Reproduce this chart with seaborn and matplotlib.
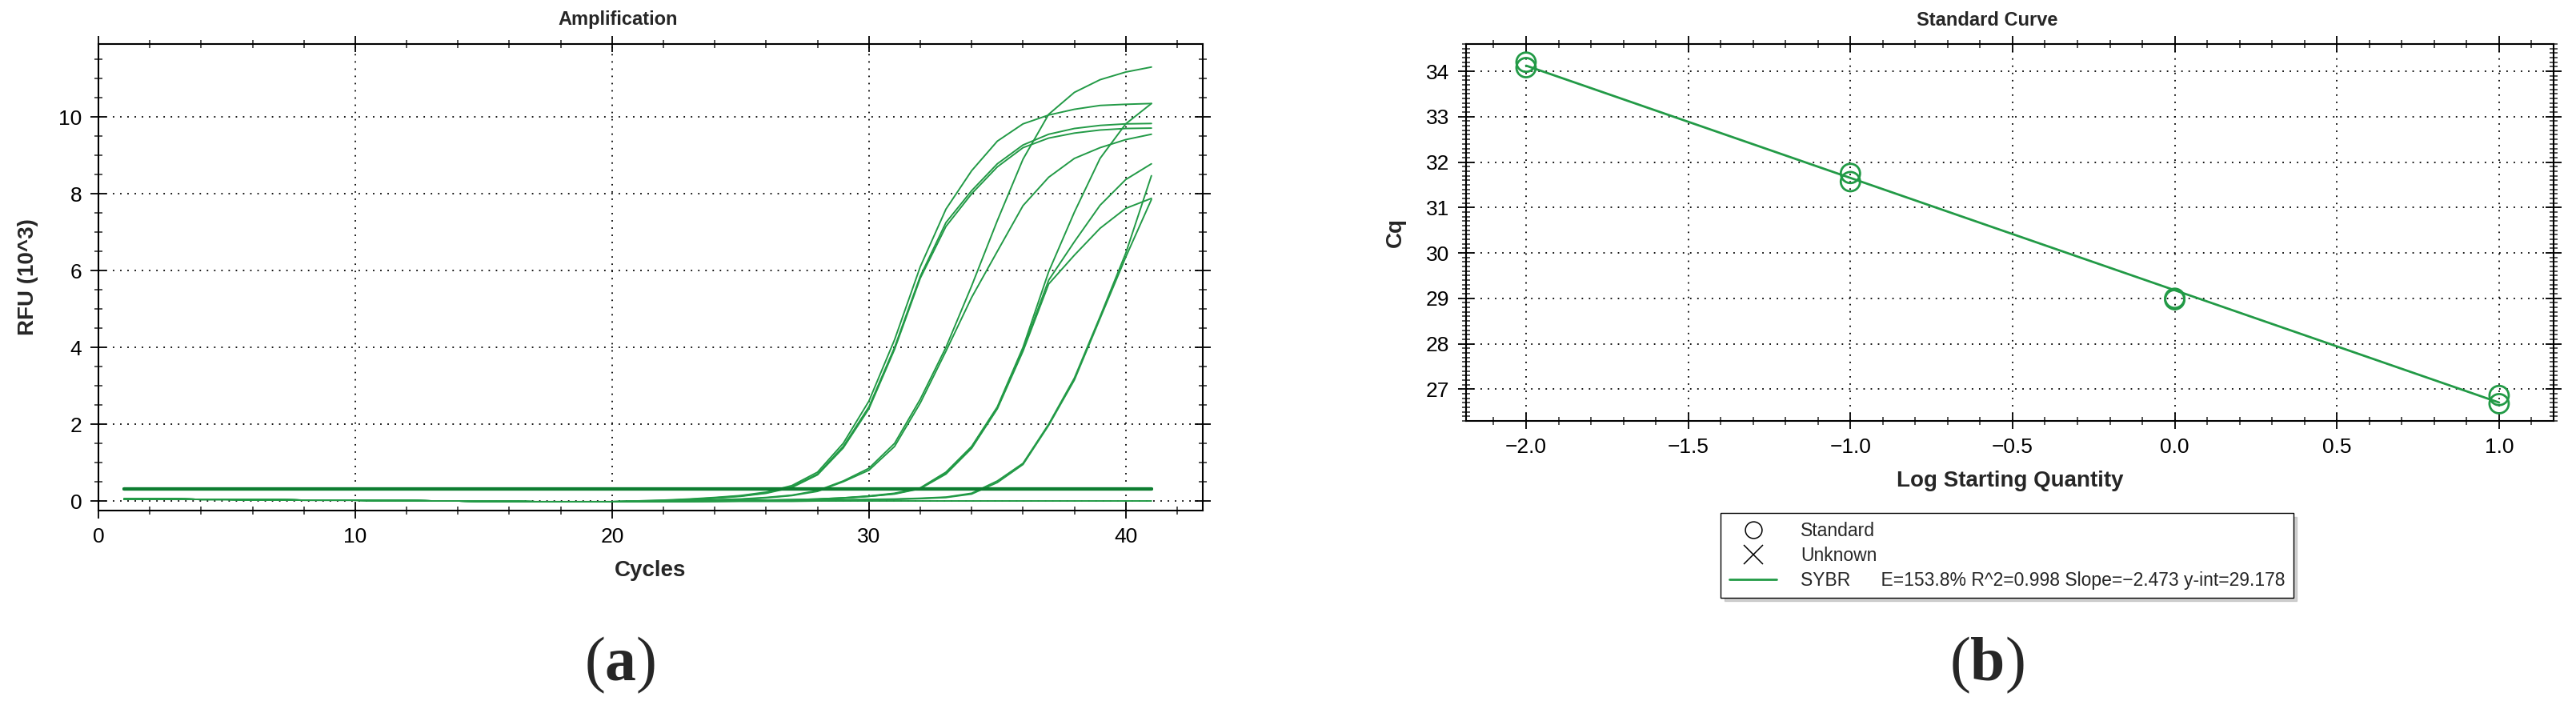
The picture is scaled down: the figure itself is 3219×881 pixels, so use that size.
import numpy as np
import pandas as pd
import seaborn as sns
import matplotlib
matplotlib.use("Agg")
from matplotlib import pyplot as plt
from matplotlib.lines import Line2D
from matplotlib.ticker import MultipleLocator

# ---- data: amplification (RFU x10^3 per cycle) ----
cycles = list(range(1, 42))

# cycles 1-20, all wells sit on the same baseline
baseline = [0.05, 0.05, 0.05, 0.04, 0.04, 0.03, 0.03, 0.02, 0.02, 0.02,
            0.01, 0.01, 0.0, 0.0, -0.01, -0.01, -0.02, -0.02, -0.02, -0.02]

# cycles 21-41
well_a1 = [0.0, 0.02, 0.05, 0.09, 0.14, 0.23, 0.40, 0.75, 1.50, 2.60, 4.20,
           6.10, 7.60, 8.60, 9.37, 9.82, 10.05, 10.20, 10.30, 10.33, 10.35]
well_a2 = [0.0, 0.01, 0.04, 0.08, 0.13, 0.21, 0.37, 0.70, 1.42, 2.45, 4.00,
           5.85, 7.25, 8.08, 8.78, 9.27, 9.55, 9.70, 9.78, 9.82, 9.83]
well_a3 = [-0.01, 0.01, 0.03, 0.07, 0.12, 0.20, 0.35, 0.68, 1.38, 2.40, 3.95,
           5.80, 7.15, 8.00, 8.70, 9.20, 9.45, 9.58, 9.66, 9.70, 9.71]
well_b1 = [-0.01, 0.0, 0.01, 0.03, 0.05, 0.09, 0.15, 0.27, 0.52, 0.85, 1.50,
           2.65, 4.00, 5.60, 7.30, 8.90, 10.07, 10.64, 10.97, 11.17, 11.30]
well_b2 = [-0.01, 0.0, 0.01, 0.02, 0.04, 0.08, 0.14, 0.25, 0.50, 0.80, 1.42,
           2.55, 3.90, 5.30, 6.50, 7.69, 8.43, 8.92, 9.20, 9.41, 9.55]
well_c1 = [-0.02, -0.01, 0.0, 0.0, 0.01, 0.02, 0.03, 0.05, 0.08, 0.13, 0.20,
           0.34, 0.75, 1.42, 2.45, 4.00, 5.97, 7.52, 8.92, 9.82, 10.35]
well_c2 = [-0.02, -0.01, 0.0, 0.0, 0.01, 0.02, 0.03, 0.05, 0.08, 0.12, 0.19,
           0.33, 0.73, 1.40, 2.42, 3.95, 5.75, 6.75, 7.70, 8.37, 8.78]
well_c3 = [-0.02, -0.01, -0.01, 0.0, 0.01, 0.02, 0.03, 0.04, 0.07, 0.12, 0.18,
           0.32, 0.70, 1.37, 2.40, 3.90, 5.65, 6.40, 7.10, 7.62, 7.88]
well_d1 = [-0.02, -0.02, -0.01, -0.01, 0.0, 0.0, 0.01, 0.02, 0.03, 0.04, 0.05,
           0.07, 0.10, 0.20, 0.52, 0.98, 2.00, 3.20, 4.80, 6.45, 8.47]
well_d2 = [-0.02, -0.02, -0.01, -0.01, 0.0, 0.0, 0.01, 0.01, 0.02, 0.03, 0.04,
           0.06, 0.09, 0.18, 0.48, 0.95, 1.97, 3.15, 4.75, 6.35, 7.85]
well_ntc = [-0.02, -0.02, -0.02, -0.01, -0.01, -0.01, -0.01, 0.0, 0.0, 0.0, 0.0,
            0.0, 0.0, 0.0, 0.0, 0.0, 0.0, 0.0, 0.0, 0.0, 0.0]
flat_levels = [0.32, 0.31]

# ---- data: standard curve ----
log_qty = [-2.0, -2.0, -1.0, -1.0, 0.0, 0.0, 1.0, 1.0]
cq = [34.20, 34.08, 31.75, 31.57, 29.00, 28.97, 26.86, 26.68]
fit_slope = -2.473
fit_intercept = 29.178
fit_x = [-2.0, 1.0]
legend_stats = "E=153.8% R^2=0.998 Slope=\u22122.473 y-int=29.178"

GREEN = "#229a46"
DARK_GREEN = "#0d7d30"
W, H = 3219, 881

sns.set_theme(style="white")
plt.rcParams["font.family"] = ["Liberation Sans", "DejaVu Sans"]
plt.rcParams["mathtext.fontset"] = "custom"
plt.rcParams["mathtext.bf"] = "Liberation Serif:bold"
plt.rcParams["mathtext.rm"] = "Liberation Serif"

wells = {"A1": well_a1, "A2": well_a2, "A3": well_a3, "B1": well_b1,
         "B2": well_b2, "C1": well_c1, "C2": well_c2, "C3": well_c3,
         "D1": well_d1, "D2": well_d2, "NTC": well_ntc}
rows = []
for name, tail in wells.items():
    for c, v in zip(cycles, baseline + tail):
        rows.append((name, c, v))
amp = pd.DataFrame(rows, columns=["well", "cycle", "rfu"])

flat = pd.DataFrame(
    [(i, c, lvl) for i, lvl in enumerate(flat_levels) for c in cycles],
    columns=["well", "cycle", "rfu"],
)

std = pd.DataFrame({"log_qty": log_qty, "cq": cq})
fit = pd.DataFrame({"x": fit_x, "y": [fit_intercept + fit_slope * x for x in fit_x]})

fig = plt.figure(figsize=(W / 100, H / 100), dpi=100)
ax1 = fig.add_axes([123 / W, 1 - 638 / H, 1380 / W, 583 / H])
ax2 = fig.add_axes([1832 / W, 1 - 526 / H, 1359 / W, 471 / H])


def style_axis(ax):
    for s in ax.spines.values():
        s.set_visible(True)
        s.set_color("black")
        s.set_linewidth(1.5)
    ax.grid(True, which="major", color="black", linestyle=(0, (1, 4)), linewidth=1.3)
    ax.tick_params(which="major", direction="inout", length=14, width=1.3,
                   labelsize=19, pad=8, top=True, right=True, bottom=True, left=True,
                   colors="black")
    ax.tick_params(which="minor", direction="inout", length=7, width=1.1,
                   top=True, right=True, bottom=True, left=True)


# (a) amplification
sns.lineplot(data=amp, x="cycle", y="rfu", units="well", estimator=None,
             color=GREEN, linewidth=1.4, ax=ax1)
sns.lineplot(data=flat, x="cycle", y="rfu", units="well", estimator=None,
             color=DARK_GREEN, linewidth=3, ax=ax1)
ax1.set_xlim(0, 43)
ax1.set_ylim(-0.25, 11.9)
ax1.xaxis.set_major_locator(MultipleLocator(10))
ax1.xaxis.set_minor_locator(MultipleLocator(2))
ax1.yaxis.set_major_locator(MultipleLocator(2))
ax1.yaxis.set_minor_locator(MultipleLocator(0.5))
style_axis(ax1)
ax1.set_xlabel("Cycles", fontsize=20, fontweight="bold", labelpad=12)
ax1.set_ylabel("RFU (10^3)", fontsize=20, fontweight="bold", labelpad=18)

# (b) standard curve
sns.lineplot(data=fit, x="x", y="y", color=GREEN, linewidth=2, ax=ax2)
sns.scatterplot(data=std, x="log_qty", y="cq", marker="o", s=300,
                color=GREEN, linewidth=2, ax=ax2)
ax2.collections[-1].set_facecolor("none")
ax2.collections[-1].set_edgecolor(GREEN)
ax2.set_xlim(-2.185, 1.168)
ax2.set_ylim(26.3, 34.6)
ax2.xaxis.set_major_locator(MultipleLocator(0.5))
ax2.xaxis.set_minor_locator(MultipleLocator(0.1))
ax2.yaxis.set_major_locator(MultipleLocator(1))
ax2.yaxis.set_minor_locator(MultipleLocator(0.1))
style_axis(ax2)
ax2.set_xlabel("Log Starting Quantity", fontsize=20, fontweight="bold", labelpad=12)
ax2.set_ylabel("Cq", fontsize=20, fontweight="bold", labelpad=18)

fig.text(772 / W, 1 - 25 / H, "Amplification", fontsize=17, fontweight="bold",
         ha="center", va="center")
fig.text(2483 / W, 1 - 25 / H, "Standard Curve", fontsize=17, fontweight="bold",
         ha="center", va="center")

handles = [
    Line2D([], [], marker="o", markerfacecolor="none", markeredgecolor="black",
           linestyle="none", markersize=15, markeredgewidth=1.1),
    Line2D([], [], marker="x", color="black", linestyle="none",
           markersize=17, markeredgewidth=1.1),
    Line2D([], [], color=GREEN, linewidth=2),
]
labels = ["Standard", "Unknown", "SYBR      " + legend_stats]
fig.legend(handles, labels, loc="upper left", bbox_to_anchor=(2139 / W, 1 - 630 / H),
           frameon=True, fancybox=False, edgecolor="black", framealpha=1,
           fontsize=16.5, handlelength=2.6, labelspacing=0.35, borderpad=0.45,
           handletextpad=1.3, shadow={"color": "0.7", "alpha": 0.6, "ox": 3, "oy": -3})

fig.text(775 / W, 1 - 831 / H, r"($\mathbf{a}$)", fontsize=56,
         family="Liberation Serif", ha="center", va="center")
fig.text(2483 / W, 1 - 831 / H, r"($\mathbf{b}$)", fontsize=56,
         family="Liberation Serif", ha="center", va="center")

fig.savefig("out.png", dpi=100)
